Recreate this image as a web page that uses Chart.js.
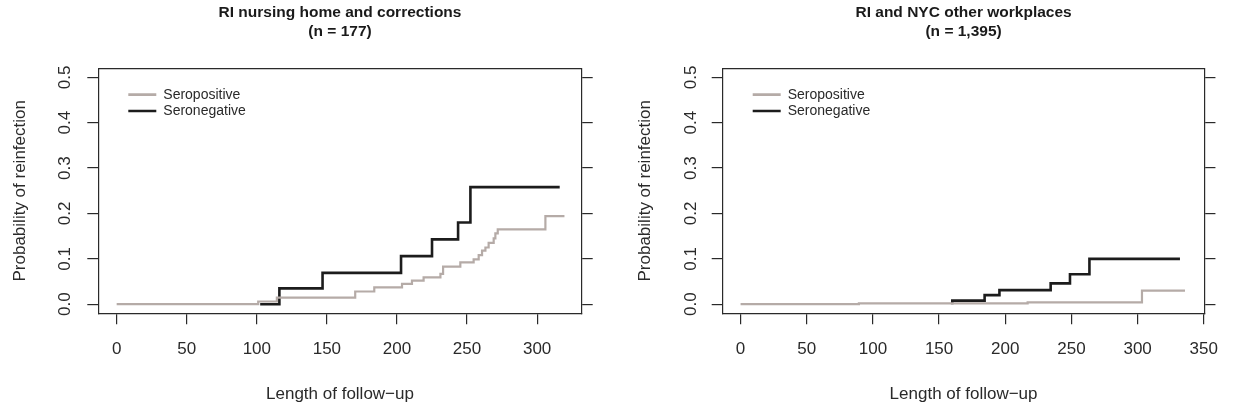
<!DOCTYPE html>
<html>
<head>
<meta charset="utf-8">
<script src="https://cdn.jsdelivr.net/npm/chart.js@4.4.1/dist/chart.umd.min.js"></script>
<style>
  html, body { margin: 0; padding: 0; background: #fff; }
  #wrap { position: relative; width: 1233px; height: 413px; }
  canvas { position: absolute; top: 0; }
  #c1 { left: 0; }
  #c2 { left: 616px; }
</style>
</head>
<body>
<div id="wrap">
  <canvas id="c1" width="616" height="413"></canvas>
  <canvas id="c2" width="617" height="413"></canvas>
</div>
<script>
// left panel
const titles1 = ['RI nursing home and corrections', '(n = 177)'];
const posTime1 = [0, 101, 114.3, 170.2, 183.8, 203.6, 210.7, 219, 231, 232.9, 245.2, 254.7, 258.3, 260.7, 263.1, 265.4, 269, 270.2, 271.9, 305.9, 319.5];
const posProb1 = [0, 0.006, 0.0145, 0.028, 0.037, 0.045, 0.052, 0.059, 0.067, 0.083, 0.092, 0.099, 0.108, 0.118, 0.125, 0.135, 0.145, 0.156, 0.165, 0.194, 0.194];
const negTime1 = [102.4, 116.1, 146.9, 202.9, 225, 243.6, 252.4, 316.1];
const negProb1 = [0, 0.035, 0.069, 0.106, 0.143, 0.18, 0.258, 0.258];
const xTicks1 = [0, 50, 100, 150, 200, 250, 300];

// right panel
const titles2 = ['RI and NYC other workplaces', '(n = 1,395)'];
const posTime2 = [0, 89.4, 216.9, 303.3, 335.8];
const posProb2 = [0, 0.002, 0.004, 0.03, 0.03];
const negTime2 = [160, 160, 184.4, 195.6, 234.3, 248.9, 263.6, 332];
const negProb2 = [0, 0.008, 0.02, 0.031, 0.046, 0.066, 0.1, 0.1];
const xTicks2 = [0, 50, 100, 150, 200, 250, 300, 350];

const yTicks = [0, 0.1, 0.2, 0.3, 0.4, 0.5];
const seriesNames = ['Seropositive', 'Seronegative'];
const seriesColors = ['#b5aba7', '#1c1c1c'];

const FONT = "'Liberation Sans', Arial, sans-serif";
const INK = '#2a2a2a';
Chart.defaults.font.family = FONT;
Chart.defaults.color = INK;

// put the legend where R put it, inside the box near the top-left corner
const legendNudge = {
  id: 'legendNudge',
  afterLayout(chart) {
    const ca = chart.chartArea;
    chart.legend.left = ca.left + 30 - 2.3;
    chart.legend.top = ca.top + 17.1;
  }
};

function edge(extra) {
  return Object.assign({
    grid: { drawOnChartArea: false, drawTicks: true, tickLength: 11, color: INK, lineWidth: 1.2 },
    border: { display: true, color: INK, width: 1.2 }
  }, extra);
}

function makeChart(id, o) {
  const pts = (t, p) => t.map((v, i) => ({ x: v, y: p[i] }));
  const line = (i, t, p, w) => ({
    label: seriesNames[i], data: pts(t, p),
    borderColor: seriesColors[i], backgroundColor: seriesColors[i],
    borderWidth: w, stepped: true, pointRadius: 0, fill: false,
    borderJoinStyle: 'miter', borderCapStyle: 'butt'
  });
  const setTicks = list => s => { s.ticks = list.map(v => ({ value: v })); };
  const tickFont = { family: FONT, size: 17 };

  return new Chart(document.getElementById(id), {
    type: 'line',
    data: { datasets: [line(0, o.posT, o.posP, 2.2), line(1, o.negT, o.negP, 2.6)] },
    options: {
      responsive: false, animation: false, devicePixelRatio: 1,
      layout: { padding: 0 },
      scales: {
        x: edge({
          type: 'linear', position: 'bottom', min: o.xMin, max: o.xMax,
          afterBuildTicks: setTicks(o.xTicks),
          afterFit: s => { s.height = 99.7; },
          ticks: { font: tickFont, color: INK, padding: 15, maxRotation: 0, autoSkip: false },
          title: { display: true, text: 'Length of follow\u2212up', font: tickFont, color: INK, padding: { top: 0, bottom: 8 } }
        }),
        y: edge({
          type: 'linear', position: 'left', min: -0.02, max: 0.52,
          afterBuildTicks: setTicks(yTicks),
          afterFit: s => { s.width = o.left; },
          ticks: { font: tickFont, color: INK, padding: o.yTickPad, minRotation: 90, maxRotation: 90,
                   crossAlign: 'center', autoSkip: false, callback: v => v.toFixed(1) },
          title: { display: true, text: 'Probability of reinfection', font: tickFont, color: INK, padding: { top: o.yTitlePad, bottom: 0 } }
        }),
        y2: edge({
          type: 'linear', position: 'right', min: -0.02, max: 0.52,
          afterBuildTicks: setTicks(yTicks),
          afterFit: s => { s.width = o.right; },
          ticks: { display: false }
        }),
        x2: {
          type: 'linear', position: 'top', min: o.xMin, max: o.xMax,
          afterFit: s => { s.height = 0; },
          ticks: { display: false },
          grid: { drawOnChartArea: false, drawTicks: false },
          border: { display: true, color: INK, width: 1.2 }
        }
      },
      plugins: {
        tooltip: { enabled: false },
        title: {
          display: true, text: o.title, fullSize: false, color: '#1a1a1a',
          font: { family: FONT, size: 15.5, weight: 'bold', lineHeight: 1.25 },
          padding: { top: 3, bottom: 26.5 }
        },
        legend: {
          display: true, position: 'chartArea', align: 'start',
          labels: {
            boxWidth: 28, boxHeight: 2.6, padding: 2.3, color: INK,
            font: { family: FONT, size: 14 },
            generateLabels: chart => Chart.defaults.plugins.legend.labels.generateLabels(chart)
              .map(l => Object.assign(l, { lineWidth: 0 }))
          }
        }
      }
    },
    plugins: [legendNudge]
  });
}

makeChart('c1', {
  title: titles1, posT: posTime1, posP: posProb1, negT: negTime1, negP: negProb1,
  xTicks: xTicks1, xMin: -13.1, xMax: 331.8,
  left: 98.3, right: 34.3, yTickPad: 10.5, yTitlePad: 10.4
});

makeChart('c2', {
  title: titles2, posT: posTime2, posP: posProb2, negT: negTime2, negP: negProb2,
  xTicks: xTicks2, xMin: -13.5, xMax: 350.5,
  left: 106.7, right: 27, yTickPad: 8.2, yTitlePad: 18.8
});
</script>
</body>
</html>
